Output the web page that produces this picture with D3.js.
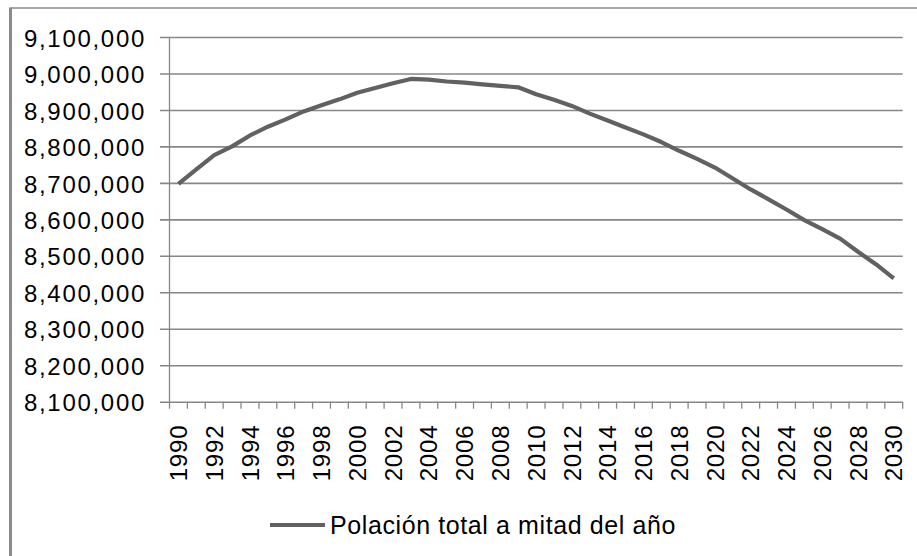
<!DOCTYPE html>
<html>
<head>
<meta charset="utf-8">
<script src="https://cdn.jsdelivr.net/npm/d3@7"></script>
<style>
  html, body { margin: 0; padding: 0; background: #fff; }
  svg { display: block; }
  text { font-family: "Liberation Sans", Arial, sans-serif; fill: #000; }
</style>
</head>
<body>
<svg id="chart" width="917" height="556"></svg>
<script>
const years = ["1990","1991","1992","1993","1994","1995","1996","1997","1998","1999",
  "2000","2001","2002","2003","2004","2005","2006","2007","2008","2009",
  "2010","2011","2012","2013","2014","2015","2016","2017","2018","2019",
  "2020","2021","2022","2023","2024","2025","2026","2027","2028","2029","2030"];
const population = [8697000, 8737000, 8776000, 8800000, 8830000, 8854000, 8874000, 8896000, 8913000, 8929000,
  8947000, 8960000, 8973000, 8985000, 8983000, 8978000, 8975000, 8970000, 8966000, 8962000,
  8943000, 8928000, 8911000, 8890000, 8871000, 8852000, 8833000, 8812000, 8788000, 8766000,
  8742000, 8712000, 8682000, 8655000, 8627000, 8598000, 8573000, 8547000, 8511000, 8477000, 8438000];
const yTicks = [8100000, 8200000, 8300000, 8400000, 8500000, 8600000, 8700000, 8800000, 8900000, 9000000, 9100000];
const xLabels = years.filter((d, i) => i % 2 === 0);
const seriesName = "Polación total a mitad del año";

const svg = d3.select("#chart");
const plotLeft = 169.5, plotRight = 902.7, plotTop = 37, plotBottom = 401.7;
const gridStart = 160;

const x = d3.scaleBand().domain(years).range([plotLeft, plotRight]).paddingInner(0).paddingOuter(0);
const y = d3.scaleLinear().domain([8100000, 9100000]).range([plotBottom, plotTop]);

// outer frame (top and left edges visible)
svg.append("line").attr("x1", 10.5).attr("x2", 917).attr("y1", 8).attr("y2", 8)
  .attr("stroke", "#8a8a8a").attr("stroke-width", 1.3);
svg.append("line").attr("x1", 10.5).attr("x2", 10.5).attr("y1", 7.5).attr("y2", 556)
  .attr("stroke", "#8a8a8a").attr("stroke-width", 3);

// gridlines + y labels
const yAxis = d3.axisLeft(y)
  .tickValues(yTicks)
  .tickSize(-(plotRight - gridStart))
  .tickPadding(14)
  .tickFormat(d3.format(","));
const gy = svg.append("g").attr("transform", `translate(${gridStart},0)`).call(yAxis);
gy.select(".domain").remove();
gy.selectAll(".tick line").attr("stroke", "#878787").attr("stroke-width", 1.6);
gy.selectAll(".tick text")
  .attr("font-size", 24).attr("letter-spacing", "1.7px")
  .attr("dy", "0.38em").attr("fill", "#000");

// y axis line
svg.append("line").attr("x1", plotLeft).attr("x2", plotLeft).attr("y1", plotTop).attr("y2", plotBottom)
  .attr("stroke", "#878787").attr("stroke-width", 1.3);

// x axis tick marks at category boundaries
const boundaries = years.map(d => x(d)).concat([x(years[years.length - 1]) + x.bandwidth()]);
svg.append("g").selectAll("line").data(boundaries).join("line")
  .attr("x1", d => d).attr("x2", d => d)
  .attr("y1", plotBottom).attr("y2", plotBottom + 7)
  .attr("stroke", "#878787").attr("stroke-width", 1.3);

// x labels
const xAxis = d3.axisBottom(x).tickValues(xLabels).tickSize(0).tickPadding(0);
const gx = svg.append("g").attr("transform", `translate(0,${plotBottom})`).call(xAxis);
gx.select(".domain").remove();
gx.selectAll(".tick text")
  .attr("font-size", 24).attr("letter-spacing", "0.8px")
  .attr("text-anchor", "end")
  .attr("transform", "translate(0,23) rotate(-90)")
  .attr("x", 0).attr("y", 0).attr("dy", "0.36em")
  .attr("fill", "#000");

// series line
const line = d3.line()
  .x((d, i) => x(years[i]) + x.bandwidth() / 2)
  .y(d => y(d));
svg.append("path").datum(population)
  .attr("d", line)
  .attr("fill", "none")
  .attr("stroke", "#616161")
  .attr("stroke-width", 4.2)
  .attr("stroke-linejoin", "round");

// legend
const lg = svg.append("g");
lg.append("line").attr("x1", 270).attr("x2", 325).attr("y1", 525).attr("y2", 525)
  .attr("stroke", "#616161").attr("stroke-width", 4.2);
lg.append("text").attr("x", 330).attr("y", 533.5)
  .attr("font-size", 25).attr("letter-spacing", "0.6px")
  .text(seriesName);
</script>
</body>
</html>
